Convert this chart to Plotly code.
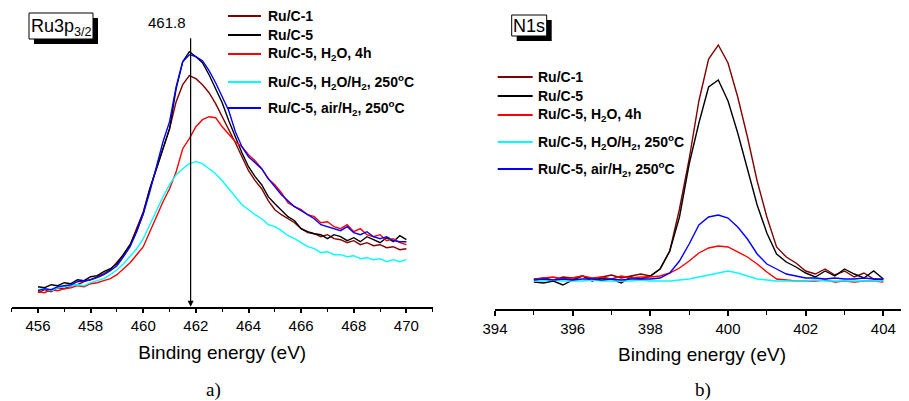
import plotly.graph_objects as go

# ---------------- data ----------------
ru_energy = [456 + 0.25 * i for i in range(57)]  # 456 .. 470 eV
n_energy = [395 + 0.25 * i for i in range(37)]   # 395 .. 404 eV

series_names = [
    "Ru/C-1",
    "Ru/C-5",
    "Ru/C-5, H<sub>2</sub>O, 4h",
    "Ru/C-5, H<sub>2</sub>O/H<sub>2</sub>, 250<sup>o</sup>C",
    "Ru/C-5, air/H<sub>2</sub>, 250<sup>o</sup>C",
]
series_colors = ["#800000", "#000000", "#ff0000", "#00ffff", "#0000ff"]

ru_c1 = [14, 17, 15, 19, 18, 21, 22, 25, 27, 30, 33, 37, 44, 52, 62, 78, 95, 118, 138, 158,
         178, 205, 222, 231, 228, 222, 214, 203, 190, 178, 164, 150, 136, 126, 118, 106, 97, 92,
         88, 84, 78, 74, 73, 70, 72, 68, 67, 64, 66, 62, 64, 61, 62, 59, 60, 57, 58]
ru_c5 = [20, 19, 22, 21, 24, 23, 27, 26, 30, 31, 35, 38, 43, 52, 62, 76, 93, 118, 138, 160,
         178, 218, 245, 255, 250, 244, 232, 218, 204, 186, 170, 154, 140, 130, 122, 110, 103, 96,
         90, 86, 78, 75, 73, 72, 68, 72, 70, 66, 69, 65, 70, 67, 64, 69, 65, 71, 67]
ru_h2o = [15, 14, 17, 16, 18, 19, 21, 20, 23, 24, 26, 28, 32, 38, 44, 52, 60, 75, 90, 105,
          118, 135, 158, 168, 180, 187, 190, 189, 180, 172, 165, 160, 152, 146, 138, 128, 122, 114,
          104, 100, 97, 92, 90, 84, 85, 80, 78, 82, 75, 78, 72, 70, 72, 66, 68, 64, 62]
ru_h2o_h2 = [17, 18, 16, 19, 20, 21, 22, 21, 24, 26, 28, 32, 37, 43, 50, 58, 68, 82, 96, 110,
             122, 132, 138, 143, 145, 143, 138, 133, 126, 118, 110, 102, 97, 92, 88, 82, 80, 76,
             71, 68, 64, 60, 58, 54, 55, 52, 52, 50, 51, 48, 49, 47, 48, 45, 47, 45, 47]
ru_air_h2 = [16, 18, 17, 20, 21, 22, 25, 26, 27, 29, 32, 36, 41, 50, 60, 75, 93, 115, 140, 165,
             185, 220, 245, 252, 250, 246, 236, 224, 210, 196, 175, 160, 150, 144, 138, 128, 120, 112,
             106, 100, 96, 92, 88, 82, 80, 78, 76, 80, 74, 72, 75, 70, 68, 70, 66, 65, 65]

n_c1 = [30, 31, 29, 32, 31, 33, 30, 32, 34, 31, 33, 35, 33, 40, 58, 100, 150, 208, 250, 264,
        246, 212, 172, 128, 92, 62, 52, 46, 38, 35, 40, 34, 38, 32, 36, 30, 29]
n_c5 = [27, 26, 28, 24, 29, 33, 28, 31, 30, 26, 32, 30, 33, 40, 58, 92, 145, 186, 222, 229,
        208, 176, 140, 104, 76, 55, 47, 42, 36, 32, 38, 33, 40, 35, 31, 38, 30]
n_h2o = [29, 31, 32, 30, 31, 33, 31, 32, 30, 33, 31, 32, 32, 33, 36, 41, 48, 56, 61, 63,
         62, 57, 52, 45, 37, 30, 29, 28, 28, 28, 29, 27, 28, 27, 28, 28, 27]
n_h2o_h2 = [28, 28, 29, 28, 28, 28, 29, 28, 28, 28, 28, 29, 28, 28, 28, 29, 30, 32, 34, 36,
            38, 36, 33, 30, 29, 28, 28, 28, 28, 29, 28, 28, 28, 28, 28, 28, 28]
n_air_h2 = [29, 30, 29, 30, 29, 30, 30, 29, 30, 29, 30, 30, 30, 31, 36, 48, 65, 84, 92, 94,
            91, 82, 70, 55, 45, 40, 35, 33, 31, 31, 30, 31, 30, 30, 31, 30, 30]

ru_series = [ru_c1, ru_c5, ru_h2o, ru_h2o_h2, ru_air_h2]
n_series = [n_c1, n_c5, n_h2o, n_h2o_h2, n_air_h2]

peak_position = 461.8
x_ticks_ru = [456, 458, 460, 462, 464, 466, 468, 470]
x_ticks_n = [394, 396, 398, 400, 402, 404]

# ---------------- figure ----------------
# the page body has an 8px default margin; size the figure to fill the rest of the window
OX, OY = 8, 8
W, H = 909 - OX, 401 - OY
SANS = "Liberation Sans, Arial, sans-serif"
SERIF = "Liberation Serif, Times New Roman, serif"


def px(x):
    return (x - OX) / W


def py(y):
    return 1 - (y - OY) / H


fig = go.Figure()
for name, col, ys in zip(series_names, series_colors, ru_series):
    fig.add_trace(go.Scatter(x=ru_energy, y=ys, mode="lines", name=name,
                             line=dict(color=col, width=1.4), xaxis="x", yaxis="y",
                             showlegend=False))
for name, col, ys in zip(series_names, series_colors, n_series):
    fig.add_trace(go.Scatter(x=n_energy, y=ys, mode="lines", name=name,
                             line=dict(color=col, width=1.4), xaxis="x2", yaxis="y2",
                             showlegend=False))

axis_common = dict(
    showline=True, linecolor="black", linewidth=1.5, ticks="outside", ticklen=5,
    tickwidth=1.5, tickcolor="black", showgrid=False, zeroline=False, automargin=False,
    tickfont=dict(family=SANS, size=15, color="black"),
    minor=dict(dtick=1, ticks="outside", ticklen=4, tickwidth=1, tickcolor="black", showgrid=False),
)

fig.update_layout(
    width=W, height=H,
    margin=dict(l=0, r=0, t=0, b=0, autoexpand=False),
    paper_bgcolor="white", plot_bgcolor="white",
    showlegend=False,
    xaxis=dict(domain=[px(11.7), px(432.7)], range=[455, 471], anchor="y",
               tickvals=x_ticks_ru,
               title=dict(text="Binding energy (eV)", font=dict(family=SANS, size=19, color="black"),
                          standoff=12),
               **axis_common),
    yaxis=dict(domain=[py(306.7), 1.0], range=[0, 306.7 - OY], visible=False),
    xaxis2=dict(domain=[px(495), 1.0], range=[394, 404.66], anchor="y2",
                tickvals=x_ticks_n,
                title=dict(text="Binding energy (eV)", font=dict(family=SANS, size=19, color="black"),
                           standoff=12),
                **axis_common),
    yaxis2=dict(domain=[py(309), py(9)], range=[0, 300], visible=False),
)

shapes = []
annotations = []

# title boxes with drop shadow
def title_box(x0, y0, x1, y1, text, shadow=5):
    shapes.append(dict(type="rect", xref="paper", yref="paper",
                       x0=px(x0 + shadow), x1=px(x1 + shadow), y0=py(y1 + shadow), y1=py(y0 + shadow),
                       fillcolor="black", line=dict(width=0), layer="above"))
    shapes.append(dict(type="rect", xref="paper", yref="paper",
                       x0=px(x0), x1=px(x1), y0=py(y1), y1=py(y0),
                       fillcolor="white", line=dict(color="black", width=1), layer="above"))
    annotations.append(dict(text=text, xref="paper", yref="paper",
                            x=px((x0 + x1) / 2), y=py((y0 + y1) / 2 + 1),
                            xanchor="center", yanchor="middle", showarrow=False,
                            font=dict(family=SANS, size=18, color="black")))


title_box(29, 13, 93, 39, "Ru3p<sub>3/2</sub>")
title_box(511.7, 15, 546.7, 36, "N1s")

# legends
def legend(rows_y, x_line0, x_line1, x_text):
    for name, col, yy in zip(series_names, series_colors, rows_y):
        shapes.append(dict(type="line", xref="paper", yref="paper",
                           x0=px(x_line0), x1=px(x_line1), y0=py(yy), y1=py(yy),
                           line=dict(color=col, width=2)))
        annotations.append(dict(text="<b>" + name + "</b>", xref="paper", yref="paper",
                                x=px(x_text), y=py(yy), xanchor="left", yanchor="middle",
                                showarrow=False, font=dict(family=SANS, size=14, color="black")))


legend([16, 35, 54, 82, 108], 228, 261, 266)
legend([77, 96, 115, 142, 169], 497.7, 532.7, 536)

# peak marker arrow
annotations.append(dict(text="", x=peak_position, y=0, xref="x", yref="y",
                        ax=peak_position, ay=270, axref="x", ayref="y",
                        showarrow=True, arrowhead=2, arrowsize=1, arrowwidth=1.2,
                        arrowcolor="black", standoff=0))
annotations.append(dict(text=str(peak_position), x=460.91, y=284.7, xref="x", yref="y",
                        showarrow=False, xanchor="center", yanchor="middle",
                        font=dict(family=SANS, size=15, color="black")))

# panel labels
annotations.append(dict(text="a)", xref="paper", yref="paper", x=px(213), y=py(390),
                        xanchor="center", yanchor="middle", showarrow=False,
                        font=dict(family=SERIF, size=19, color="black")))
annotations.append(dict(text="b)", xref="paper", yref="paper", x=px(703), y=py(390),
                        xanchor="center", yanchor="middle", showarrow=False,
                        font=dict(family=SERIF, size=19, color="black")))

fig.update_layout(shapes=shapes, annotations=annotations)
fig.write_html("out.html")
